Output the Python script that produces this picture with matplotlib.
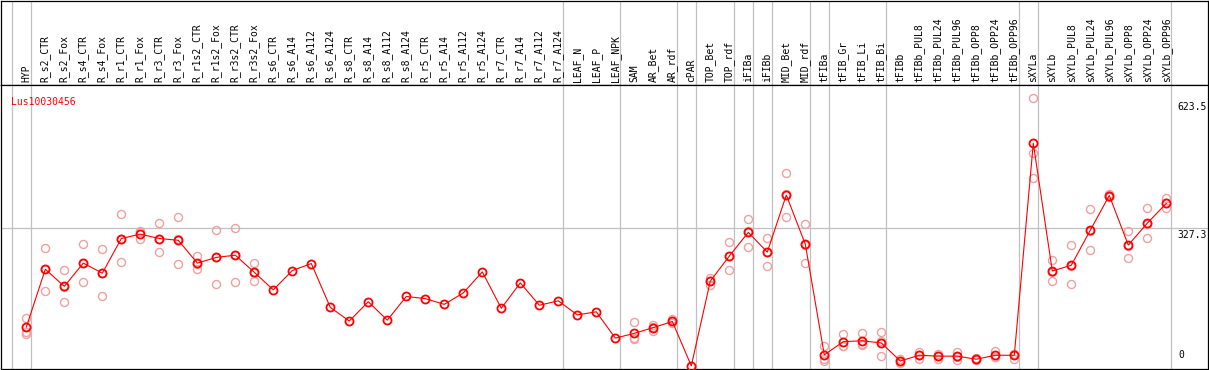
import numpy as np
import matplotlib
matplotlib.use("Agg")
import matplotlib.pyplot as plt

gene = "Lus10030456"

samples = ["HYP",
           "R_s2_CTR", "R_s2_Fox", "R_s4_CTR", "R_s4_Fox", "R_r1_CTR", "R_r1_Fox",
           "R_r3_CTR", "R_r3_Fox", "R_r1s2_CTR", "R_r1s2_Fox", "R_r3s2_CTR", "R_r3s2_Fox",
           "R_s6_CTR", "R_s6_A14", "R_s6_A112", "R_s6_A124",
           "R_s8_CTR", "R_s8_A14", "R_s8_A112", "R_s8_A124",
           "R_r5_CTR", "R_r5_A14", "R_r5_A112", "R_r5_A124",
           "R_r7_CTR", "R_r7_A14", "R_r7_A112", "R_r7_A124",
           "LEAF_N", "LEAF_P", "LEAF_NPK", "SAM", "AR_Bet", "AR_rdf", "cPAR",
           "TOP_Bet", "TOP_rdf", "iFIBa", "iFIBb", "MID_Bet", "MID_rdf",
           "tFIBa", "tFIB_Gr", "tFIB_Li", "tFIB_Bi",
           "tFIBb", "tFIBb_PUL8", "tFIBb_PUL24", "tFIBb_PUL96",
           "tFIBb_OPP8", "tFIBb_OPP24", "tFIBb_OPP96",
           "sXYLa", "sXYLb", "sXYLb_PUL8", "sXYLb_PUL24", "sXYLb_PUL96",
           "sXYLb_OPP8", "sXYLb_OPP24", "sXYLb_OPP96"]

# number of samples in each block separated by a grey line
group_sizes = [1, 28, 3, 3, 1, 2, 1, 1, 2, 1, 3, 7, 1, 7]

means = [102,
         234, 195, 248, 225, 304, 314, 304, 300, 248, 261, 266, 227,
         187, 231, 247, 147, 116, 160, 118, 172,
         167, 154, 180, 228, 145, 203, 152, 162,
         130, 137, 77, 88, 101, 115, 14,
         207, 264, 318, 273, 403, 291,
         39, 69, 71, 66,
         25, 38, 36, 36, 29, 38, 38,
         521, 230, 243, 323, 402, 289, 339, 384]

replicates = [[123, 92, 86],
              [282, 235, 184], [232, 194, 159], [291, 249, 205], [279, 225, 172],
              [359, 304, 251], [322, 318, 303], [339, 302, 273], [352, 302, 245],
              [265, 246, 234], [323, 261, 200], [327, 266, 204], [248, 226, 207],
              [], [], [], [], [], [], [], [], [], [], [], [], [], [], [], [],
              [], [], [],
              [113, 77, 74], [108, 102, 93], [120, 115, 111], [],
              [215, 207, 199], [295, 264, 232], [348, 321, 285], [305, 273, 241],
              [453, 405, 352], [336, 289, 248],
              [59, 29, 26], [87, 60, 60], [89, 63, 61], [91, 71, 36],
              [30, 25, 20], [46, 38, 30], [40, 36, 29], [46, 35, 27],
              [31, 29, 27], [47, 34, 33], [42, 41, 30],
              [624, 499, 441], [255, 228, 207], [289, 241, 200], [371, 322, 277],
              [405, 403, 399], [320, 288, 260], [374, 338, 305], [396, 384, 373]]

ref_values = [623.5, 327.3]

W, H = 1209, 370
fig = plt.figure(figsize=(W / 100, H / 100), dpi=100)
mono = "DejaVu Sans Mono"
grey = "#c0c0c0"

x = np.arange(len(samples))
xlim = (-1.332, 62.195)
head_px = 85.3

# header with sample names
axh = fig.add_axes([1 / W, (H - head_px) / H, 1207 / W, (head_px - 0.5) / H])
axh.set_xlim(*xlim)
axh.set_ylim(0, 1)
axh.set_xticks([])
axh.set_yticks([])
for s in axh.spines.values():
    s.set_linewidth(0.9)
for xi, name in zip(x, samples):
    axh.text(xi, 0.035, name, rotation=90, ha="center", va="bottom",
             fontsize=7, family=mono, color="black")

# main plot
ax = fig.add_axes([1 / W, 1 / H, 1207 / W, (369 - head_px) / H])
ax.set_xlim(*xlim)
ax.set_ylim(6.7, 653.1)
ax.set_xticks([])
ax.set_yticks([])
for s in ax.spines.values():
    s.set_linewidth(0.9)

bounds = np.cumsum([0] + group_sizes) - 1 + 0.237
for b in bounds:
    ax.axvline(b, color=grey, lw=0.9, zorder=1)
    axh.axvline(b, color=grey, lw=0.9, zorder=1)
ax.axhline(ref_values[1], color=grey, lw=0.9, zorder=1)

for xi, reps in zip(x, replicates):
    if reps:
        ax.plot([xi] * len(reps), reps, "o", ms=5.8, mfc="none", mec="#f0a0a0",
                mew=1.0, zorder=2)

ax.plot(x, means, "-", color="red", lw=0.8, zorder=3)
ax.plot(x, means, "o", ms=5.8, mfc="none", mec="red", mew=1.3, zorder=4)

ax.text(0.008, 0.94, gene, transform=ax.transAxes, color="red", fontsize=7,
        family=mono, ha="left", va="center")

lab_x = 60.6
ax.annotate("%.1f" % ref_values[0], (lab_x, ref_values[0]), xytext=(0, -3),
            textcoords="offset points", fontsize=7, family=mono, va="top", ha="left")
ax.annotate("%.1f" % ref_values[1], (lab_x, ref_values[1]), xytext=(0, -1),
            textcoords="offset points", fontsize=7, family=mono, va="top", ha="left")
ax.text(lab_x + 0.05, 0.03, "0", transform=ax.get_xaxis_transform(), fontsize=7,
        family=mono, va="bottom", ha="left")

fig.savefig("out.png", dpi=100)
